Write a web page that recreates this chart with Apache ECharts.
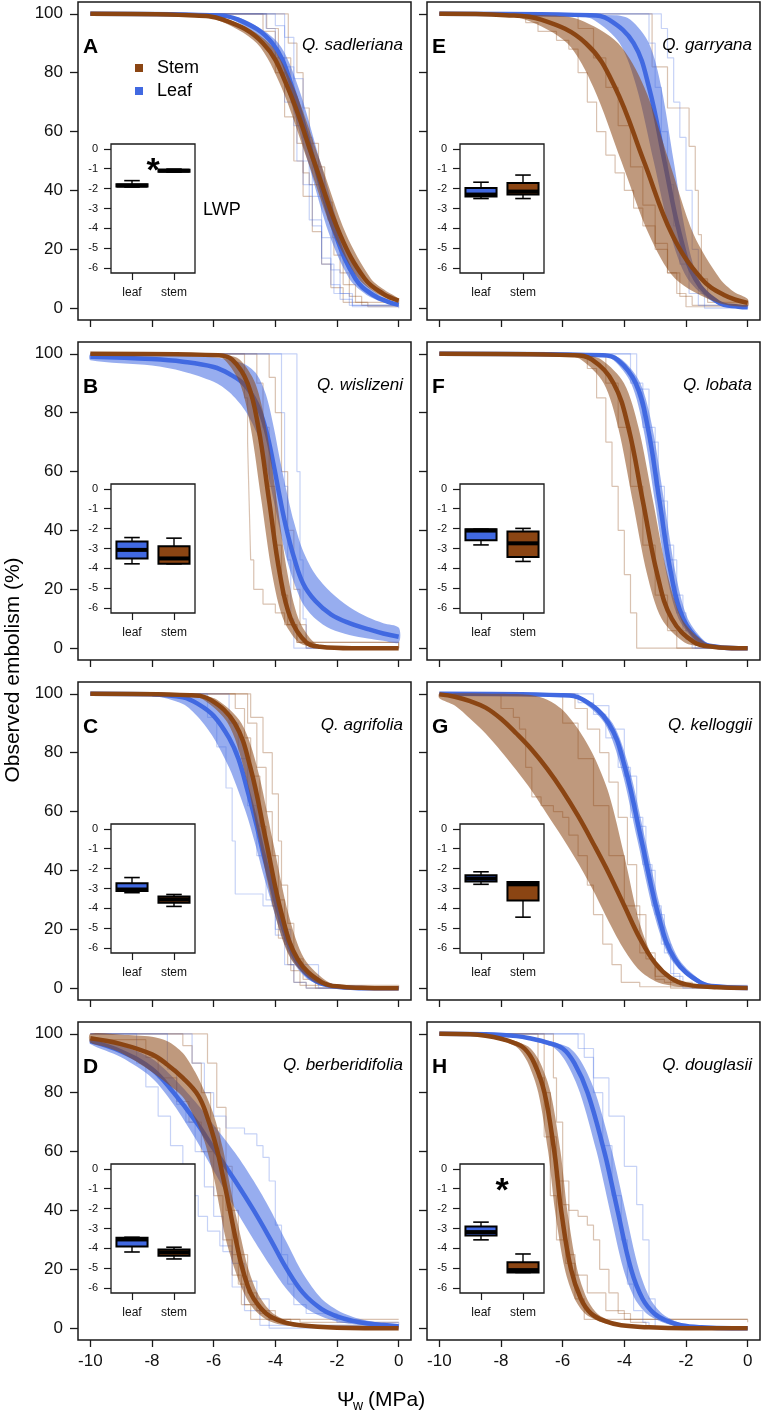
<!DOCTYPE html>
<html><head><meta charset="utf-8">
<script src="https://cdn.jsdelivr.net/npm/echarts@6/dist/echarts.min.js"></script>
<style>html,body{margin:0;padding:0;background:#fff;}#c{width:762px;height:1414px;}</style>
</head><body><div id="c"></div>
<script>
// ---------------- tick labels / categories ----------------
const X_TICKS = [-10, -8, -6, -4, -2, 0];
const Y_TICKS = [0, 20, 40, 60, 80, 100];
const INSET_TICKS = [0, -1, -2, -3, -4, -5, -6];
const INSET_CATS = ['leaf', 'stem'];

// ---------------- Panel A : Q. sadleriana ----------------
const stemA   = [[-10,100],[-6.8,99.5],[-5.7,98],[-4.4,90],[-3.6,75],[-2.75,50],[-1.9,25],[-1.1,10],[-0.5,4.9],[0,2.6]];
const stemLoA = [[-10,100],[-7.0,99.5],[-5.9,98],[-4.6,90],[-3.8,75],[-2.95,50],[-2.1,25],[-1.3,10],[-0.6,4.3],[0,2.0]];
const stemHiA = [[-10,100],[-6.6,99.5],[-5.5,98],[-4.2,90],[-3.4,75],[-2.55,50],[-1.7,25],[-0.9,10],[-0.4,5.8],[0,3.3]];
const leafA   = [[-10,100],[-6.1,99.5],[-5.2,98],[-4.1,90],[-3.45,75],[-2.75,50],[-2.05,25],[-1.4,10],[-0.85,4.6],[-0.3,2],[0,1.2]];
const leafLoA = [[-10,100],[-6.3,99.5],[-5.4,98],[-4.3,90],[-3.65,75],[-2.95,50],[-2.25,25],[-1.6,10],[-1.05,4.6],[-0.5,2],[0,0.9]];
const leafHiA = [[-10,100],[-5.9,99.5],[-5.0,98],[-3.9,90],[-3.25,75],[-2.55,50],[-1.85,25],[-1.2,10],[-0.65,4.6],[-0.1,2],[0,1.7]];
const stemObsA = [
  [[-10,100],[-4.28,100],[-4.28,95],[-3.9,85],[-3.5,72],[-3.3,56],[-3.1,46],[-2.9,42],[-2.5,38],[-2.3,30],[-2.1,18],[-1.8,8],[-1.4,2],[-1.0,0.5],[0,0.5]],
  [[-10,100],[-3.58,100],[-3.58,90],[-3.3,80],[-3.1,68],[-2.9,56],[-2.6,48],[-2.4,36],[-2.15,24],[-1.9,12],[-1.6,4],[-1.2,1],[0,1]],
  [[-10,100],[-4.6,100],[-4.4,94],[-4.0,80],[-3.7,65],[-3.4,50],[-3.1,38],[-2.8,26],[-2.5,15],[-2.2,7],[-1.8,2],[0,1.5]]
];
const leafObsA = [
  [[-10,100],[-4.2,100],[-4.0,96],[-3.7,82],[-3.4,62],[-3.1,42],[-2.8,28],[-2.5,17],[-2.2,8],[-1.9,3],[-1.5,0.5],[0,0.5]],
  [[-10,100],[-3.9,100],[-3.7,92],[-3.4,78],[-3.1,58],[-2.8,38],[-2.5,24],[-2.2,13],[-1.9,5],[-1.5,1],[0,1]],
  [[-10,100],[-4.5,100],[-4.3,95],[-4.0,85],[-3.7,70],[-3.3,50],[-2.9,30],[-2.5,15],[-2.1,5],[-1.6,1],[0,0]]
];
const lwpLeafA = [-1.92, -1.9, -1.85, -1.78, -1.6];
const lwpStemA = [-1.17, -1.15, -1.1, -1.05, -1.02];

// ---------------- Panel E : Q. garryana ----------------
const stemE   = [[-10,100],[-7.85,99.5],[-6.7,98],[-5.25,90],[-4.3,75],[-3.37,50],[-2.45,25],[-1.5,10],[-0.75,4.4],[0,1.8]];
const stemLoE = [[-10,99.9],[-8.35,99.5],[-7.2,98],[-5.85,90],[-5.0,75],[-4.1,50],[-3.2,25],[-2.35,10],[-1.0,2],[0,0.6]];
const stemHiE = [[-10,100],[-6.5,99.5],[-5.45,98],[-4.2,90],[-3.35,75],[-2.55,50],[-1.75,25],[-0.9,10],[-0.45,5.6],[0,3.1]];
const leafE   = [[-10,100],[-5.1,99.5],[-4.5,98],[-3.7,90],[-3.2,75],[-2.7,50],[-2.2,25],[-1.7,10],[-0.95,2],[-0.3,0.5],[0,0.3]];
const leafLoE = [[-10,100],[-5.7,99.5],[-5.0,98],[-4.15,90],[-3.6,75],[-3.05,50],[-2.5,25],[-1.95,10],[-1.1,2],[-0.4,0.5],[0,0.2]];
const leafHiE = [[-10,100],[-4.3,99.5],[-3.8,98],[-3.2,90],[-2.8,75],[-2.4,50],[-2.0,25],[-1.6,10],[-1.0,2],[-0.5,0.5],[0,0.1]];
const stemObsE = [
  [[-10,100],[-7.4,100],[-7.2,97],[-6.8,94],[-6.2,91],[-5.8,88],[-5.5,80],[-5.2,70],[-4.9,60],[-4.6,52],[-4.3,46],[-4.0,40],[-3.7,34],[-3.4,28],[-3.0,20],[-2.6,12],[-2.3,5],[-2.0,0.5],[0,0.5]],
  [[-10,100],[-3.1,100],[-3.1,82],[-2.7,82],[-2.6,68],[-2.2,68],[-1.9,55],[-1.7,40],[-1.6,25],[-1.5,10],[-1.3,2],[0,2]],
  [[-10,100],[-6.0,100],[-5.5,95],[-5.0,85],[-4.6,75],[-4.2,62],[-3.8,48],[-3.4,35],[-3.0,22],[-2.6,12],[-2.2,4],[-1.8,1],[0,1]]
];
const leafObsE = [
  [[-10,100],[-3.4,100],[-3.2,90],[-3.0,75],[-2.8,60],[-2.6,42],[-2.4,28],[-2.2,15],[-1.9,5],[-1.6,1],[0,0]],
  [[-10,100],[-3.0,100],[-2.8,95],[-2.6,85],[-2.4,70],[-2.2,58],[-2.0,40],[-1.8,20],[-1.6,5],[-1.4,0],[0,0]]
];
const lwpLeafE = [-2.5, -2.4, -2.3, -1.97, -1.68];
const lwpStemE = [-2.5, -2.3, -2.15, -1.72, -1.32];

// ---------------- Panel B : Q. wislizeni ----------------
const stemB   = [[-10,100],[-5.85,99.5],[-5.4,98],[-4.9,90],[-4.55,75],[-4.2,50],[-3.85,25],[-3.5,10],[-3.0,2],[-2.55,0.5],[-1.5,0],[0,0]];
const stemLoB = [[-10,100],[-6.1,99.5],[-5.65,98],[-5.15,90],[-4.8,75],[-4.45,50],[-4.1,25],[-3.75,10],[-3.25,2],[-2.8,0.5],[-1.8,0],[0,0]];
const stemHiB = [[-10,100],[-5.6,99.5],[-5.15,98],[-4.65,90],[-4.3,75],[-3.95,50],[-3.6,25],[-3.25,10],[-2.75,2],[-2.3,0.5],[-1.3,0],[0,0]];
const leafB   = [[-10,99],[-8,98.2],[-7,97.3],[-6,95.5],[-5.5,93.2],[-5,89.5],[-4.6,83],[-4.3,74],[-4.05,62],[-3.85,51],[-3.65,41],[-3.4,31],[-3.1,22],[-2.7,16],[-2.2,11.5],[-1.6,8.5],[-1,6.5],[-0.5,5],[0,3.9]];
const leafLoB = [[-10,97.8],[-8,96],[-7,94],[-6,90.5],[-5.5,87],[-5,81],[-4.6,73],[-4.3,62],[-4.05,50],[-3.85,40],[-3.65,31],[-3.4,22.5],[-3.1,15],[-2.7,10],[-2.2,6.5],[-1.6,4.5],[-1,3.3],[-0.5,2.5],[0,1.9]];
const leafHiB = [[-10,99.8],[-8,99.6],[-7,99.3],[-6,98.8],[-5.5,98],[-5,96.5],[-4.6,93],[-4.3,86],[-4.05,75],[-3.85,64],[-3.65,54],[-3.4,43],[-3.1,33],[-2.7,25],[-2.2,19],[-1.6,14],[-1,10.5],[-0.5,8.5],[0,7]];
const stemObsB = [
  [[-10,100],[-5.1,100],[-5.0,85],[-4.9,70],[-4.85,50],[-4.8,30],[-4.7,20],[-4.4,15],[-4.0,12],[-3.7,8],[-3.3,2],[-3.0,0],[0,0]],
  [[-10,100],[-4.8,100],[-4.6,90],[-4.4,75],[-4.2,55],[-4.0,35],[-3.8,18],[-3.6,8],[-3.3,2],[0,0]],
  [[-10,100],[-4.3,100],[-4.2,92],[-4.0,80],[-3.8,60],[-3.6,40],[-3.4,20],[-3.2,8],[-3.0,2],[0,0]]
];
const leafObsB = [
  [[-10,100],[-3.8,100],[-3.8,80],[-3.7,55],[-3.6,30],[-3.5,10],[-3.4,0],[0,0]],
  [[-10,100],[-3.3,100],[-3.3,60],[-3.2,30],[-3.1,10],[-3.0,0],[0,0]]
];
const lwpLeafB = [-3.77, -3.5, -3.07, -2.65, -2.45];
const lwpStemB = [-3.77, -3.77, -3.5, -2.89, -2.48];

// ---------------- Panel F : Q. lobata ----------------
const stemF   = [[-10,100],[-5.65,99.5],[-5.05,98],[-4.35,90],[-3.87,75],[-3.4,50],[-2.93,25],[-2.46,10],[-1.73,2],[-1.13,0.5],[-0.3,0],[0,0]];
const stemLoF = [[-10,100],[-6.0,99.5],[-5.4,98],[-4.67,90],[-4.2,75],[-3.73,50],[-3.26,25],[-2.79,10],[-2.06,2],[-1.46,0.5],[-0.6,0],[0,0]];
const stemHiF = [[-10,100],[-5.34,99.5],[-4.74,98],[-4.01,90],[-3.54,75],[-3.07,50],[-2.6,25],[-2.13,10],[-1.4,2],[-0.8,0.5],[-0.1,0],[0,0]];
const leafF   = [[-10,100],[-4.7,99.5],[-4.22,98],[-3.63,90],[-3.24,75],[-2.86,50],[-2.48,25],[-2.09,10],[-1.5,2],[-1.0,0.5],[-0.3,0],[0,0]];
const leafLoF = [[-10,100],[-4.86,99.5],[-4.37,98],[-3.78,90],[-3.39,75],[-3.01,50],[-2.63,25],[-2.24,10],[-1.65,2],[-1.16,0.5],[-0.4,0],[0,0]];
const leafHiF = [[-10,100],[-4.56,99.5],[-4.07,98],[-3.48,90],[-3.09,75],[-2.71,50],[-2.33,25],[-1.94,10],[-1.35,2],[-0.86,0.5],[-0.2,0],[0,0]];
const stemObsF = [
  [[-10,100],[-5.5,100],[-5.2,95],[-4.9,85],[-4.6,70],[-4.4,55],[-4.2,40],[-4.0,25],[-3.8,12],[-3.6,0],[0,0]],
  [[-10,100],[-5.0,100],[-4.6,90],[-4.2,75],[-3.8,55],[-3.4,35],[-3.0,18],[-2.6,6],[-2.3,0],[0,0]]
];
const leafObsF = [
  [[-10,100],[-4.2,100],[-3.8,90],[-3.4,75],[-3.0,55],[-2.7,35],[-2.4,18],[-2.1,6],[-1.8,0],[0,0]],
  [[-10,100],[-3.9,100],[-3.6,88],[-3.2,70],[-2.9,50],[-2.6,30],[-2.3,12],[-2.0,3],[-1.7,0],[0,0]]
];
const lwpLeafF = [-2.82, -2.58, -2.1, -2.03, -2.03];
const lwpStemF = [-3.65, -3.43, -2.74, -2.15, -1.99];

// ---------------- Panel C : Q. agrifolia ----------------
const stemC   = [[-10,100],[-6.77,99.5],[-6.11,98],[-5.32,90],[-4.81,75],[-4.3,50],[-3.79,25],[-3.28,10],[-2.49,2],[-1.83,0.5],[-1,0.1],[0,0]];
const stemLoC = [[-10,100],[-6.99,99.5],[-6.33,98],[-5.54,90],[-5.03,75],[-4.52,50],[-4.01,25],[-3.5,10],[-2.71,2],[-2.05,0.5],[-1.2,0.1],[0,0]];
const stemHiC = [[-10,100],[-6.55,99.5],[-5.89,98],[-5.1,90],[-4.59,75],[-4.08,50],[-3.57,25],[-3.06,10],[-2.27,2],[-1.61,0.5],[-0.8,0.1],[0,0]];
const leafC   = [[-10,100],[-8,99.8],[-7,98.8],[-6.5,96.5],[-6,92.5],[-5.5,85],[-5.2,78],[-4.9,67],[-4.6,55],[-4.4,46],[-4.15,36],[-3.9,26],[-3.6,16],[-3.3,9],[-3,5],[-2.6,2],[-2,0.5],[-1,0],[0,0]];
const leafLoC = [[-10,100],[-8,99.3],[-7,96.5],[-6.5,92],[-6,85],[-5.5,75],[-5.2,67],[-4.9,58],[-4.6,47],[-4.4,39],[-4.15,30],[-3.9,21],[-3.6,12.5],[-3.3,7],[-3,3.5],[-2.6,1.3],[-2,0.3],[-1,0],[0,0]];
const leafHiC = [[-10,100],[-8,100],[-7,99.8],[-6.5,99.2],[-6,97.5],[-5.5,93.5],[-5.2,89],[-4.9,80],[-4.6,67],[-4.4,57],[-4.15,44],[-3.9,32],[-3.6,20],[-3.3,11.5],[-3,6.5],[-2.6,2.7],[-2,0.7],[-1,0],[0,0]];
const stemObsC = [
  [[-10,100],[-5.5,100],[-5.3,95],[-5.0,85],[-4.8,72],[-4.5,55],[-4.3,40],[-4.1,28],[-3.9,17],[-3.6,8],[-3.4,2],[-3.0,0],[0,0]],
  [[-10,100],[-5.0,100],[-4.8,92],[-4.4,80],[-4.1,66],[-3.9,50],[-3.8,35],[-3.6,22],[-3.4,10],[-3.1,3],[-2.7,0],[0,0]],
  [[-10,100],[-4.9,100],[-4.9,90],[-4.6,75],[-4.3,60],[-4.1,45],[-3.9,30],[-3.7,15],[-3.5,6],[-3.2,1],[0,0]]
];
const leafObsC = [
  [[-10,100],[-6.5,100],[-6.2,92],[-5.9,82],[-5.6,68],[-5.4,50],[-5.3,32],[-4.6,32],[-4.4,28],[-4.0,20],[-3.5,20],[-3.5,8],[-2.9,8],[-2.6,0],[0,0]],
  [[-10,100],[-5.8,100],[-5.5,90],[-5.2,78],[-4.9,62],[-4.6,45],[-4.3,30],[-4.0,18],[-3.7,8],[-3.4,2],[-3.0,0],[0,0]]
];
const lwpLeafC = [-3.21, -3.12, -3.05, -2.74, -2.45];
const lwpStemC = [-3.9, -3.72, -3.55, -3.4, -3.3];

// ---------------- Panel G : Q. kelloggii ----------------
const stemG   = [[-10,99.8],[-9.5,99],[-9,97.5],[-8.5,95.3],[-8,91.5],[-7.5,86.5],[-7,81],[-6.5,74.5],[-6,67],[-5.5,58.5],[-5,49],[-4.5,39],[-4,28],[-3.5,17],[-3,8.5],[-2.5,3.5],[-2,1.3],[-1,0.3],[0,0.1]];
const stemLoG = [[-10,98.5],[-9.5,96],[-9,91.5],[-8.5,86.5],[-8,80.5],[-7.5,74],[-7,67],[-6.5,59],[-6,51],[-5.5,42.5],[-5,33],[-4.5,22.5],[-4,13],[-3.5,6],[-3,2.4],[-2.5,0.9],[-2,0.3],[0,0]];
const stemHiG = [[-10,100],[-8,100],[-7,99.5],[-6.5,98],[-6,94.5],[-5.5,88],[-5,79],[-4.5,66],[-4,45],[-3.5,22],[-3,9],[-2.5,3.5],[-2,1.5],[-1,0.4],[0,0.1]];
const leafG   = [[-10,100],[-6.03,99.5],[-5.34,98],[-4.51,90],[-3.98,75],[-3.44,50],[-2.9,25],[-2.37,10],[-1.54,2],[-0.85,0.5],[0,0.1]];
const leafLoG = [[-10,100],[-6.16,99.5],[-5.47,98],[-4.64,90],[-4.11,75],[-3.57,50],[-3.03,25],[-2.5,10],[-1.67,2],[-0.98,0.5],[0,0.1]];
const leafHiG = [[-10,100],[-5.9,99.5],[-5.21,98],[-4.38,90],[-3.85,75],[-3.31,50],[-2.77,25],[-2.24,10],[-1.41,2],[-0.72,0.5],[0,0.2]];
const stemObsG = [
  [[-10,100],[-8.3,100],[-8.0,95],[-7.6,92],[-7.4,88],[-7.2,75],[-7.0,65],[-6.7,62],[-6.3,60],[-6.0,58],[-5.8,52],[-5.5,45],[-5.2,35],[-5.0,25],[-4.7,15],[-4.4,8],[-4.1,2],[-3.5,0.5],[0,0.5]],
  [[-10,100],[-5.8,100],[-5.6,95],[-5.2,88],[-4.8,80],[-4.5,70],[-4.2,58],[-3.9,42],[-3.6,25],[-3.3,10],[-3.0,3],[-2.7,2],[-1.8,2],[-1.8,0],[0,0]],
  [[-10,100],[-6.5,100],[-6,90],[-5.5,78],[-5,62],[-4.5,45],[-4.0,28],[-3.5,12],[-3.0,4],[-2.5,0],[0,0]]
];
const leafObsG = [
  [[-10,100],[-6.0,100],[-5.5,97],[-5.0,93],[-4.6,85],[-4.2,75],[-3.8,58],[-3.4,42],[-3.1,28],[-2.8,15],[-2.5,5],[-2.2,1],[0,1]],
  [[-10,100],[-5.5,100],[-5.0,96],[-4.5,88],[-4.0,72],[-3.6,55],[-3.3,40],[-3.0,25],[-2.7,12],[-2.4,4],[-2.1,0],[0,0]]
];
const lwpLeafG = [-2.79, -2.65, -2.5, -2.33, -2.16];
const lwpStemG = [-4.44, -3.6, -2.79, -2.67, -2.67];

// ---------------- Panel D : Q. berberidifolia ----------------
const stemD   = [[-10,98.5],[-9,96.5],[-8,93],[-7.5,89.5],[-7,85],[-6.5,79],[-6.2,71.5],[-5.9,61],[-5.7,51.5],[-5.5,41.5],[-5.3,31],[-5.1,21.5],[-4.9,14.5],[-4.7,10],[-4.3,5],[-3.8,2.3],[-3.2,1],[-2,0.2],[0,0]];
const stemLoD = [[-10,97],[-9.5,95.5],[-9,93.5],[-8.5,90.5],[-8,87],[-7.5,83],[-7,78.5],[-6.6,71],[-6.3,63.5],[-6,51.5],[-5.8,40.5],[-5.6,30],[-5.3,19.5],[-5,11.5],[-4.7,6.5],[-4.3,3],[-3.8,1.2],[-3,0.3],[0,0]];
const stemHiD = [[-10,100],[-9,99.7],[-8,99],[-7.5,97.5],[-7,93.5],[-6.6,87],[-6.3,80.5],[-6,72.5],[-5.7,61],[-5.5,50],[-5.3,39.5],[-5.1,30],[-4.9,21],[-4.6,12.5],[-4.3,7.5],[-4,4.5],[-3.5,2],[-3,0.9],[-2,0.2],[0,0]];
const leafD   = [[-10,97.5],[-9,94],[-8,88],[-7.3,80],[-6.6,70.5],[-6,61],[-5.3,50],[-4.7,40],[-4.15,30],[-3.65,20.5],[-3.1,12],[-2.5,6.5],[-2,4],[-1.5,2.5],[-1,1.6],[-0.5,1.1],[0,0.7]];
const leafLoD = [[-10,96.5],[-9,92],[-8,85],[-7.3,76],[-6.6,64.5],[-6,53.5],[-5.3,40.5],[-4.7,30],[-4.15,21],[-3.65,13.5],[-3.1,7.5],[-2.5,4],[-2,2.3],[-1.5,1.4],[-1,0.9],[-0.5,0.6],[0,0.4]];
const leafHiD = [[-10,98.3],[-9,96],[-8,91.5],[-7.3,85],[-6.6,77],[-6,69],[-5.3,59.5],[-4.7,50],[-4.15,40],[-3.65,29.5],[-3.1,18.5],[-2.5,10],[-2,6.2],[-1.5,3.9],[-1,2.5],[-0.5,1.6],[0,1.1]];
const stemObsD = [
  [[-10,100],[-7.3,100],[-7.0,96],[-6.7,90],[-6.4,80],[-6.1,68],[-5.8,55],[-5.6,40],[-5.4,25],[-5.2,15],[-5.0,8],[-4.5,5],[-4.2,3],[-3.5,1],[0,1]],
  [[-10,100],[-6.5,100],[-6.2,90],[-5.9,75],[-5.6,55],[-5.4,40],[-5.2,25],[-4.9,12],[-4.6,6],[-4.0,3],[-3.2,2],[0,2]],
  [[-10,98],[-8.5,98],[-8.2,92],[-7.8,85],[-7.2,77],[-6.8,70],[-6.4,60],[-6.0,45],[-5.7,30],[-5.4,18],[-5.1,8],[-4.8,3],[0,3]]
];
const leafObsD = [
  [[-10,100],[-8.7,100],[-8.5,90],[-8.2,82],[-7.8,72],[-7.4,62],[-7.0,55],[-6.7,45],[-6.5,38],[-6.2,33],[-5.8,28],[-5.4,22],[-5.0,16],[-4.6,10],[-4.2,0],[0,0]],
  [[-10,100],[-7.0,100],[-6.7,90],[-6.3,80],[-6.0,72],[-5.6,68],[-5.0,66],[-4.6,62],[-4.4,58],[-4.2,50],[-4.0,35],[-3.8,25],[-3.6,15],[-3.4,8],[-3.0,5],[-2.0,2],[0,1]],
  [[-10,100],[-7.8,100],[-7.5,88],[-7.2,76],[-6.9,70],[-6.6,60],[-6.3,48],[-6.0,38],[-5.7,26],[-5.4,14],[-5.0,6],[-4.5,1],[0,1]]
];
const lwpLeafD = [-4.18, -3.91, -3.55, -3.47, -3.44];
const lwpStemD = [-4.53, -4.37, -4.2, -4.06, -3.94];

// ---------------- Panel H : Q. douglasii ----------------
const stemH   = [[-10,100],[-9,99.8],[-8.5,99.3],[-8,98.3],[-7.6,97],[-7.24,95],[-6.92,90],[-6.59,80],[-6.27,60],[-6.16,50],[-6.05,40],[-5.73,20],[-5.41,10],[-5.08,5],[-4.6,2.3],[-4.1,1],[-3.2,0.3],[-2,0],[0,0]];
const stemLoH = [[-10,100],[-9.2,99.8],[-8.7,99.3],[-8.2,98.3],[-7.8,97],[-7.44,95],[-7.12,90],[-6.79,80],[-6.47,60],[-6.36,50],[-6.25,40],[-5.93,20],[-5.61,10],[-5.28,5],[-4.8,2.3],[-4.3,1],[-3.4,0.3],[-2.2,0],[0,0]];
const stemHiH = [[-10,100],[-8.8,99.8],[-8.3,99.3],[-7.8,98.3],[-7.4,97],[-7.04,95],[-6.72,90],[-6.39,80],[-6.07,60],[-5.96,50],[-5.85,40],[-5.53,20],[-5.21,10],[-4.88,5],[-4.4,2.3],[-3.9,1],[-3.0,0.3],[-1.8,0],[0,0]];
const leafH   = [[-10,100],[-8.5,99.8],[-7.5,99.2],[-7,98.3],[-6.5,97],[-6,95],[-5.62,90],[-5.19,80],[-4.65,60],[-4.43,50],[-4.22,40],[-3.78,20],[-3.41,10],[-3.03,5],[-2.6,2.4],[-2.16,1],[-1.5,0.3],[-0.5,0],[0,0]];
const leafLoH = [[-10,100],[-8.75,99.8],[-7.75,99.2],[-7.25,98.3],[-6.75,97],[-6.25,95],[-5.87,90],[-5.44,80],[-4.9,60],[-4.68,50],[-4.47,40],[-4.03,20],[-3.66,10],[-3.28,5],[-2.85,2.4],[-2.41,1],[-1.75,0.3],[-0.75,0],[0,0]];
const leafHiH = [[-10,100],[-8.25,99.8],[-7.25,99.2],[-6.75,98.3],[-6.25,97],[-5.75,95],[-5.37,90],[-4.94,80],[-4.4,60],[-4.18,50],[-3.97,40],[-3.53,20],[-3.16,10],[-2.78,5],[-2.35,2.4],[-1.91,1],[-1.25,0.3],[-0.25,0],[0,0]];
const stemObsH = [
  [[-10,100],[-6.7,100],[-6.6,80],[-6.4,65],[-6.2,50],[-6.0,42],[-5.8,40],[-5.5,38],[-5.2,35],[-5.0,30],[-4.8,20],[-4.5,12],[-4.2,5],[-3.8,2],[-3.3,0],[0,0]],
  [[-10,100],[-7.0,100],[-6.8,85],[-6.6,65],[-6.4,45],[-6.2,30],[-5.9,22],[-5.6,18],[-5.2,12],[-4.6,6],[-4.0,3],[0,3]],
  [[-10,100],[-6.4,100],[-6.3,85],[-6.2,70],[-6.0,50],[-5.8,25],[-5.6,10],[-5.3,3],[0,2]]
];
const leafObsH = [
  [[-10,100],[-5.6,100],[-5.3,92],[-5.0,80],[-4.7,62],[-4.4,45],[-4.1,30],[-3.9,15],[-3.7,6],[-3.4,2],[-3.2,0],[0,0]],
  [[-10,100],[-6.0,100],[-5.5,95],[-5.0,85],[-4.5,72],[-4.0,55],[-3.6,42],[-3.4,30],[-3.2,10],[-3.0,0],[0,0]]
];
const lwpLeafH = [-3.57, -3.35, -3.18, -2.9, -2.68];
const lwpStemH = [-5.21, -5.21, -5.09, -4.7, -4.28];

// ---------------- styling & layout ----------------
const FONT = "'Liberation Sans', Arial, Helvetica, sans-serif";
const STEM_C = '#8B4513', LEAF_C = '#4169E1';
const STEM_BAND = 'rgba(139,69,19,0.55)', LEAF_BAND = 'rgba(65,105,225,0.55)';
const STEM_OBS = 'rgba(139,69,19,0.33)', LEAF_OBS = 'rgba(65,105,225,0.3)';
const COL_LEFT = [78, 427], BOX_W = 333, BOX_H = 318, ROW_TOP0 = 2, ROW_STEP = 340;
const INSET_DX = 33, INSET_DY = 142, INSET_W = 84, INSET_H = 129;

const panels = [
  {letter:'A', species:'Q. sadleriana', row:0, col:0, stem:stemA, stemLo:stemLoA, stemHi:stemHiA, leaf:leafA, leafLo:leafLoA, leafHi:leafHiA, stemObs:stemObsA, leafObs:leafObsA, lwpLeaf:lwpLeafA, lwpStem:lwpStemA, star:true, legend:true},
  {letter:'E', species:'Q. garryana', row:0, col:1, stem:stemE, stemLo:stemLoE, stemHi:stemHiE, leaf:leafE, leafLo:leafLoE, leafHi:leafHiE, stemObs:stemObsE, leafObs:leafObsE, lwpLeaf:lwpLeafE, lwpStem:lwpStemE},
  {letter:'B', species:'Q. wislizeni', row:1, col:0, stem:stemB, stemLo:stemLoB, stemHi:stemHiB, leaf:leafB, leafLo:leafLoB, leafHi:leafHiB, stemObs:stemObsB, leafObs:leafObsB, lwpLeaf:lwpLeafB, lwpStem:lwpStemB},
  {letter:'F', species:'Q. lobata', row:1, col:1, stem:stemF, stemLo:stemLoF, stemHi:stemHiF, leaf:leafF, leafLo:leafLoF, leafHi:leafHiF, stemObs:stemObsF, leafObs:leafObsF, lwpLeaf:lwpLeafF, lwpStem:lwpStemF},
  {letter:'C', species:'Q. agrifolia', row:2, col:0, stem:stemC, stemLo:stemLoC, stemHi:stemHiC, leaf:leafC, leafLo:leafLoC, leafHi:leafHiC, stemObs:stemObsC, leafObs:leafObsC, lwpLeaf:lwpLeafC, lwpStem:lwpStemC},
  {letter:'G', species:'Q. kelloggii', row:2, col:1, stem:stemG, stemLo:stemLoG, stemHi:stemHiG, leaf:leafG, leafLo:leafLoG, leafHi:leafHiG, stemObs:stemObsG, leafObs:leafObsG, lwpLeaf:lwpLeafG, lwpStem:lwpStemG},
  {letter:'D', species:'Q. berberidifolia', row:3, col:0, stem:stemD, stemLo:stemLoD, stemHi:stemHiD, leaf:leafD, leafLo:leafLoD, leafHi:leafHiD, stemObs:stemObsD, leafObs:leafObsD, lwpLeaf:lwpLeafD, lwpStem:lwpStemD},
  {letter:'H', species:'Q. douglasii', row:3, col:1, stem:stemH, stemLo:stemLoH, stemHi:stemHiH, leaf:leafH, leafLo:leafLoH, leafHi:leafHiH, stemObs:stemObsH, leafObs:leafObsH, lwpLeaf:lwpLeafH, lwpStem:lwpStemH, star:true}
];

const grids = [], xAxes = [], yAxes = [], series = [], graphics = [];

function txt(x, y, text, font, align, extra) {
  return Object.assign({type:'text', x, y, z:100, silent:true,
    style:{text, font, fill:'#000', textAlign:align||'left', align:align||'left', textVerticalAlign:'middle', verticalAlign:'middle'}}, extra||{});
}
function bandSeries(gi, lo, hi, color, z) {
  const pts = hi.concat(lo.slice().reverse());
  return {type:'custom', xAxisIndex:gi, yAxisIndex:gi, z, silent:true, data:[[-10,100]],
    renderItem:(params, api) => ({type:'polygon', shape:{points: pts.map(q => api.coord(q)), smooth:0.3}, style:{fill:color}})};
}
function meanSeries(gi, data, color, z) {
  return {type:'line', xAxisIndex:gi, yAxisIndex:gi, z, silent:true, data, symbol:'none', smooth:0.4, lineStyle:{color, width:4.5}};
}
function obsSeries(gi, data, color) {
  return {type:'line', xAxisIndex:gi, yAxisIndex:gi, z:1, silent:true, data, symbol:'none', step:'end', lineStyle:{color, width:1.2}};
}

panels.forEach((p, k) => {
  const L = COL_LEFT[p.col], T = ROW_TOP0 + ROW_STEP * p.row;
  const gi = 2 * k, ii = 2 * k + 1;
  grids.push({left:L, top:T, width:BOX_W, height:BOX_H, show:true, borderColor:'#1a1a1a', borderWidth:1.5, backgroundColor:'transparent', z:2});
  xAxes.push({gridIndex:gi, type:'value', min:-10.4, max:0.4, position:'bottom',
    axisLine:{show:false, onZero:false}, splitLine:{show:false},
    axisTick:{show:true, customValues:X_TICKS, length:7, lineStyle:{color:'#1a1a1a', width:1.3}},
    axisLabel:{show:p.row === 3, customValues:X_TICKS, fontSize:17, fontFamily:FONT, color:'#111', margin:13}});
  yAxes.push({gridIndex:gi, type:'value', min:-4, max:104, position:'left',
    axisLine:{show:false, onZero:false}, splitLine:{show:false},
    axisTick:{show:true, customValues:Y_TICKS, length:8, lineStyle:{color:'#1a1a1a', width:1.3}},
    axisLabel:{show:p.col === 0, customValues:Y_TICKS, fontSize:17, fontFamily:FONT, color:'#111', margin:15}});
  const IL = L + INSET_DX, IT = T + INSET_DY;
  grids.push({left:IL, top:IT, width:INSET_W, height:INSET_H, show:true, borderColor:'#1a1a1a', borderWidth:1.3, backgroundColor:'#fff', z:10});
  xAxes.push({gridIndex:ii, type:'category', data:INSET_CATS, boundaryGap:true, z:11, position:'bottom',
    axisLine:{show:false, onZero:false}, splitLine:{show:false},
    axisTick:{show:true, alignWithLabel:true, length:7, lineStyle:{color:'#1a1a1a', width:1.2}},
    axisLabel:{fontSize:12, fontFamily:FONT, color:'#111', margin:14}});
  yAxes.push({gridIndex:ii, type:'value', min:-6.24, max:0.24, z:11, position:'left',
    axisLine:{show:false, onZero:false}, splitLine:{show:false},
    axisTick:{show:true, customValues:INSET_TICKS, length:7, lineStyle:{color:'#1a1a1a', width:1.2}},
    axisLabel:{customValues:INSET_TICKS, fontSize:11, fontFamily:FONT, color:'#111', margin:13}});

  p.stemObs.forEach(d => series.push(obsSeries(gi, d, STEM_OBS)));
  p.leafObs.forEach(d => series.push(obsSeries(gi, d, LEAF_OBS)));
  series.push(bandSeries(gi, p.leafLo, p.leafHi, LEAF_BAND, 2));
  series.push(meanSeries(gi, p.leaf, LEAF_C, 3));
  series.push(bandSeries(gi, p.stemLo, p.stemHi, STEM_BAND, 4));
  series.push(meanSeries(gi, p.stem, STEM_C, 5));
  series.push({type:'custom', xAxisIndex:ii, yAxisIndex:ii, z:12, silent:true,
    encode:{x:0, y:3},
    data:[[0].concat(p.lwpLeaf), [1].concat(p.lwpStem)],
    renderItem:(params, api) => {
      const i = api.value(0);
      const pMin = api.coord([i, api.value(1)]), pQ1 = api.coord([i, api.value(2)]),
            pMed = api.coord([i, api.value(3)]), pQ3 = api.coord([i, api.value(4)]),
            pMax = api.coord([i, api.value(5)]);
      const bw = api.size([1, 0])[0] * 0.74, cx = pMed[0];
      const ln = (x1, y1, x2, y2, w) => ({type:'line', shape:{x1, y1, x2, y2}, style:{stroke:'#000', lineWidth:w}});
      return {type:'group', children:[
        ln(cx, pMax[1], cx, pQ3[1], 1.4), ln(cx, pQ1[1], cx, pMin[1], 1.4),
        ln(cx - bw / 4, pMax[1], cx + bw / 4, pMax[1], 1.6), ln(cx - bw / 4, pMin[1], cx + bw / 4, pMin[1], 1.6),
        {type:'rect', shape:{x:cx - bw / 2, y:pQ3[1], width:bw, height:Math.max(pQ1[1] - pQ3[1], 0.5)}, style:{fill: i === 0 ? LEAF_C : STEM_C, stroke:'#000', lineWidth:2}},
        ln(cx - bw / 2, pMed[1], cx + bw / 2, pMed[1], 4)
      ]};
    }});

  graphics.push(txt(L + 5, T + 45, p.letter, 'bold 21px ' + FONT, 'left'));
  graphics.push(txt(L + BOX_W - 8, T + 43, p.species, 'italic 17px ' + FONT, 'right'));
  if (p.star) graphics.push(txt(IL + INSET_W / 2, T + 170, '*', 'bold 34px ' + FONT, 'center'));
  if (p.legend) {
    graphics.push({type:'rect', z:100, shape:{x:L + 57, y:T + 62, width:8, height:8}, style:{fill:STEM_C}});
    graphics.push({type:'rect', z:100, shape:{x:L + 57, y:T + 85, width:8, height:8}, style:{fill:LEAF_C}});
    graphics.push(txt(L + 79, T + 66, 'Stem', '18px ' + FONT, 'left'));
    graphics.push(txt(L + 79, T + 89, 'Leaf', '18px ' + FONT, 'left'));
    graphics.push(txt(L + 125, T + 208, 'LWP', '18px ' + FONT, 'left'));
  }
});

graphics.push(txt(13, 670, 'Observed embolism (%)', '21px ' + FONT, 'center', {rotation: Math.PI / 2}));
graphics.push(txt(337, 1400, 'Ψ', '21px ' + FONT, 'left'));
graphics.push(txt(353, 1406, 'w', '14px ' + FONT, 'left'));
graphics.push(txt(368, 1400, '(MPa)', '21px ' + FONT, 'left'));

const chart = echarts.init(document.getElementById('c'), null, {renderer:'canvas'});
chart.setOption({animation:false, backgroundColor:'#fff', grid:grids, xAxis:xAxes, yAxis:yAxes, series, graphic:{elements:graphics}});
</script></body></html>
